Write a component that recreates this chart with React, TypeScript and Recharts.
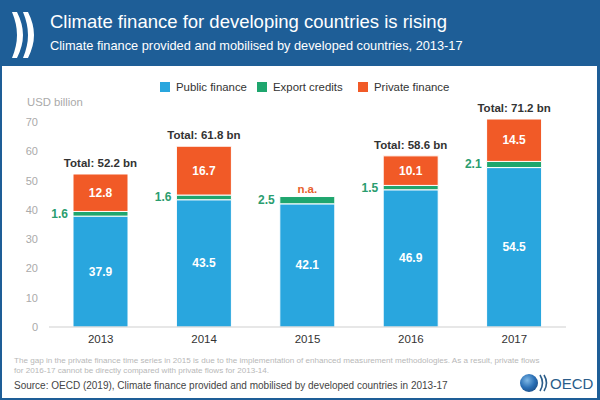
import React from "react";
import { BarChart, Bar, XAxis, YAxis, LabelList } from "recharts";

const years = ["2013", "2014", "2015", "2016", "2017"];
const publicFinance = [37.9, 43.5, 42.1, 46.9, 54.5];
const exportCredits = [1.6, 1.6, 2.5, 1.5, 2.1];
const privateFinance = [12.8, 16.7, null, 10.1, 14.5]; // 2015: n.a.
const totals = [52.2, 61.8, null, 58.6, 71.2];
const yTicks = [0, 10, 20, 30, 40, 50, 60, 70];

const FONT = "'Liberation Sans', Arial, sans-serif";
const BLUE = "#29a6de";
const GREEN = "#1fa66e";
const ORANGE = "#f15a27";
const HEADER = "#1e5e97";

const rows = years.map((year, i) => ({
  year,
  public: publicFinance[i],
  export: exportCredits[i],
  private: privateFinance[i] ?? 0,
  total: totals[i] == null ? "" : `Total: ${totals[i]} bn`,
  na: privateFinance[i] == null ? "n.a." : "",
}));

const box = (p: any) => {
  const vb = p.viewBox && p.viewBox.width != null ? p.viewBox : p;
  return { x: +vb.x, y: +vb.y, w: +vb.width, h: +vb.height };
};

const InsideLabel = (p: any) => {
  if (!p.value) return null;
  const { x, y, w, h } = box(p);
  return (
    <text x={x + w / 2} y={y + h / 2} textAnchor="middle" dominantBaseline="central"
      fill="#fff" fontSize={12} fontWeight="bold" fontFamily={FONT}>
      {p.value}
    </text>
  );
};

const ExportLabel = (p: any) => {
  const { x, y, h } = box(p);
  return (
    <text x={x - 5} y={y + h / 2} textAnchor="end" dominantBaseline="central"
      fill="#2a9d6f" fontSize={12} fontWeight="bold" fontFamily={FONT}>
      {p.value}
    </text>
  );
};

const TotalLabel = (p: any) => {
  if (!p.value) return null;
  const { x, y, w } = box(p);
  return (
    <text x={x + w / 2} y={y - 11} textAnchor="middle" dominantBaseline="central"
      fill="#333" fontSize={11.5} fontWeight="bold" fontFamily={FONT}>
      {p.value}
    </text>
  );
};

const NaLabel = (p: any) => {
  if (!p.value) return null;
  const { x, y, w } = box(p);
  return (
    <text x={x + w / 2} y={y - 8} textAnchor="middle" dominantBaseline="central"
      fill="#e8602c" fontSize={11.5} fontWeight="bold" fontFamily={FONT}>
      {p.value}
    </text>
  );
};

const legendItems = [
  { label: "Public finance", color: BLUE, left: 160 },
  { label: "Export credits", color: GREEN, left: 257 },
  { label: "Private finance", color: ORANGE, left: 358 },
];

const Chevrons = () => (
  <svg width={40} height={66} style={{ position: "absolute", left: 0, top: 0 }}>
    <path d="M12,12 L17,12 Q23,24 23,35 Q23,46 17,58 L12,58 Q17,46 17,35 Q17,24 12,12 Z" fill="#fff" />
    <path d="M23,12 L28,12 Q34,24 34,35 Q34,46 28,58 L23,58 Q28,46 28,35 Q28,24 23,12 Z" fill="#fff" />
  </svg>
);

const OecdLogo = () => (
  <svg width={80} height={24} style={{ position: "absolute", left: 516, top: 371 }}>
    <defs>
      <radialGradient id="globe" cx="40%" cy="35%" r="70%">
        <stop offset="0%" stopColor="#7fb8e6" />
        <stop offset="60%" stopColor="#2a6fb5" />
        <stop offset="100%" stopColor="#1c4f8a" />
      </radialGradient>
    </defs>
    <circle cx={13} cy={12} r={9} fill="url(#globe)" />
    <path d="M24,4 Q29,12 24,20" stroke="#2b5d8a" strokeWidth={1.6} fill="none" />
    <path d="M28,4 Q33,12 28,20" stroke="#2b5d8a" strokeWidth={1.6} fill="none" />
    <text x={34} y={18} fontSize={15} fill="#2b5d8a" fontFamily={FONT}>OECD</text>
  </svg>
);

export default function App() {
  return (
    <div style={{ position: "absolute", left: 0, top: 0, width: 600, height: 400, background: HEADER, fontFamily: FONT, overflow: "hidden" }}>
      <Chevrons />
      <div style={{ position: "absolute", left: 50, top: 11, fontSize: 18.5, lineHeight: "22px", color: "#fff", whiteSpace: "nowrap" }}>
        Climate finance for developing countries is rising
      </div>
      <div style={{ position: "absolute", left: 50, top: 38, fontSize: 12.8, lineHeight: "16px", color: "#fff", whiteSpace: "nowrap" }}>
        Climate finance provided and mobilised by developed countries, 2013-17
      </div>
      <div style={{ position: "absolute", left: 2, top: 66, width: 595, height: 332, background: "#fff" }} />

      {legendItems.map((it) => (
        <div key={it.label} style={{ position: "absolute", left: it.left, top: 79, height: 16, display: "flex", alignItems: "center", whiteSpace: "nowrap" }}>
          <span style={{ width: 10, height: 10, background: it.color, marginRight: 6 }} />
          <span style={{ fontSize: 11.4, color: "#333" }}>{it.label}</span>
        </div>
      ))}

      <div style={{ position: "absolute", left: 27, top: 95, fontSize: 11.3, lineHeight: "14px", color: "#aaa" }}>USD billion</div>

      <div style={{ position: "absolute", left: 0, top: 0 }}>
        <BarChart width={600} height={400} data={rows} margin={{ top: 119, right: 34, bottom: 43, left: 0 }}
          style={{ fontFamily: FONT }}>
          <XAxis dataKey="year" height={30} tickLine={false} axisLine={{ stroke: "#cfcfcf" }}
            tick={{ fill: "#333", fontSize: 11.5 }} />
          <YAxis width={49} domain={[0, 70]} ticks={yTicks} axisLine={false} tickLine={false} tickMargin={5}
            tick={{ fill: "#aaa", fontSize: 11 }} />
          <Bar dataKey="public" stackId="a" fill={BLUE} barSize={55} stroke="#fff" strokeWidth={1} isAnimationActive={false}>
            <LabelList dataKey="public" content={InsideLabel} />
          </Bar>
          <Bar dataKey="export" stackId="a" fill={GREEN} barSize={55} stroke="#fff" strokeWidth={1} isAnimationActive={false}>
            <LabelList dataKey="export" content={ExportLabel} />
            <LabelList dataKey="na" content={NaLabel} />
          </Bar>
          <Bar dataKey="private" stackId="a" fill={ORANGE} barSize={55} stroke="#fff" strokeWidth={1} isAnimationActive={false}>
            <LabelList dataKey="private" content={InsideLabel} />
            <LabelList dataKey="total" content={TotalLabel} />
          </Bar>
        </BarChart>
      </div>

      <div style={{ position: "absolute", left: 14, top: 356, fontSize: 8.1, lineHeight: "10px", color: "#b8b8b8", whiteSpace: "nowrap" }}>
        The gap in the private finance time series in 2015 is due to the implementation of enhanced measurement methodologies. As a result, private flows
        <br />
        for 2016-17 cannot be directly compared with private flows for 2013-14.
      </div>
      <div style={{ position: "absolute", left: 14, top: 379, fontSize: 10, lineHeight: "14px", color: "#444", whiteSpace: "nowrap" }}>
        Source: OECD (2019), Climate finance provided and mobilised by developed countries in 2013-17
      </div>
      <OecdLogo />
    </div>
  );
}
